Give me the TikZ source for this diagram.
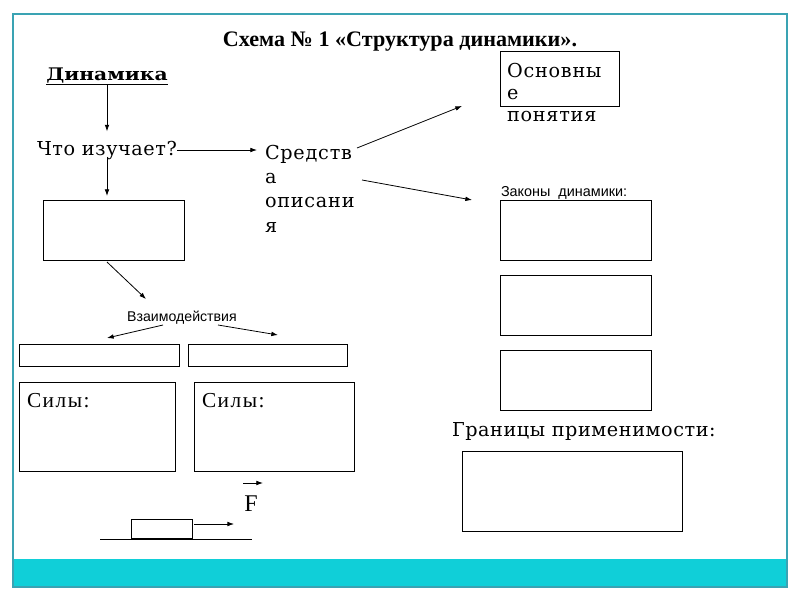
\documentclass[tikz,border=0pt]{standalone}
\usepackage{fontspec}
\setmainfont{Liberation Serif}
\newfontfamily\dvs{DejaVu Serif}
\newfontfamily\dvsls[LetterSpace=4]{DejaVu Serif}
\newfontfamily\dvslt[LetterSpace=3]{DejaVu Serif}
\newfontfamily\lserls[LetterSpace=7]{Liberation Serif}
\newfontfamily\lsans{Liberation Sans}
\usetikzlibrary{arrows.meta}
\definecolor{framecol}{HTML}{3AA3B3}
\definecolor{bandcol}{HTML}{10CFD8}
\tikzset{
  box/.style={draw, line width=0.8pt, inner sep=0pt, anchor=north west},
  arr/.style={-{Latex[length=5pt,width=3.5pt]}, line width=0.6pt},
  plain/.style={line width=0.7pt},
  txt/.style={inner sep=0pt, outer sep=0pt},
}
\newcommand\bx[5]{\node[box, minimum width=#4*0.75pt, minimum height=#5*0.75pt] (#1) at (#2,#3) {};}
\begin{document}
\begin{tikzpicture}[x=0.75pt,y=-0.75pt]
\useasboundingbox (0,0) rectangle (800,600);
\fill[white] (0,0) rectangle (800,600);
\fill[bandcol] (13,559) rectangle (787,586);
\draw[framecol, line width=0.8pt] (13,14) rectangle (787,587);

% title
\node[txt, anchor=base] (title) at (400,46) {\fontsize{16.6}{18}\selectfont\bfseries Схема № 1 «Структура динамики».};

% left column
\node[txt, anchor=base] (dyn) at (107,80) {\dvs\fontsize{13}{15}\selectfont\bfseries\scalebox{1.17}[1]{\underline{Динамика}}};
\node[txt, anchor=base west] (q) at (37,155) {\dvslt\fontsize{14.4}{16}\selectfont Что изучает?};
\node[txt, anchor=north west, align=left, font=\dvsls\fontsize{14.4}{18.2}\selectfont] (desc) at (265,145) {Средств\\а\\описани\\я};

\bx{b1}{43}{200}{141}{60}
\node[txt, anchor=base] (inter) at (182,321) {\lsans\fontsize{10.6}{12}\selectfont Взаимодействия};
\bx{s1}{19}{344}{160}{22}
\bx{s2}{188}{344}{159}{22}
\bx{f1}{19}{382}{156}{89}
\bx{f2}{194}{382}{160}{89}
\node[txt, anchor=base west] (f1t) at (27,407) {\lserls\fontsize{16}{18}\selectfont Силы:};
\node[txt, anchor=base west] (f2t) at (202,407) {\lserls\fontsize{16}{18}\selectfont Силы:};

% vector F
\coordinate (va) at (243,483);
\coordinate (vb) at (263,483);
\node[txt, anchor=base] (F) at (251,511) {\fontsize{18}{20}\selectfont F};
\draw[arr] (va) -- (vb);

% block on surface
\bx{blk}{131}{519}{61}{19}
\coordinate (gl) at (100,538);
\coordinate (gr) at (252,538);
\draw[plain] (gl |- blk.south) -- (gr |- blk.south);
\draw[arr] (blk.east |- 0,524) ++(1,0) coordinate (fa) -- ++(40,0) coordinate (fb);

% right column
\bx{osn}{500}{51}{119}{55}
\node[txt, anchor=north west, align=left, font=\dvsls\fontsize{14.4}{16.5}\selectfont] (osnt) at (507,63) {Основны\\е\\понятия};
\node[txt, anchor=base west] (zak) at (501,196) {\lsans\fontsize{10.8}{12}\selectfont Законы\ \ динамики:};
\bx{z1}{500}{200}{151}{60}
\bx{z2}{500}{275}{151}{60}
\bx{z3}{500}{350}{151}{60}
\node[txt, anchor=base west] (gran) at (452,436) {\dvslt\fontsize{14.4}{16}\selectfont Границы применимости:};
\bx{g1}{462}{451}{220}{80}

% connectors
\draw[arr] (dyn.south) -- ([yshift=7pt]dyn.south |- q.north);
\draw[arr] (q.east) -- ([xshift=-6pt]q.east -| desc.west);
\draw[arr] ([yshift=2pt]dyn.south |- q.south) -- ([yshift=3pt]dyn.south |- b1.north);
\coordinate (b1a) at (107,262);
\coordinate (ia) at (146,299);
\draw[arr] (b1a) -- (ia);
\coordinate (il) at (163,325);
\coordinate (ilt) at (107,338);
\coordinate (ir) at (218,325);
\coordinate (irt) at (278,335);
\draw[arr] (il) -- (ilt);
\draw[arr] (ir) -- (irt);
\coordinate (d1) at (357,148);
\coordinate (d1t) at (462,106);
\coordinate (d2) at (362,180);
\coordinate (d2t) at (472,200);
\draw[arr] (d1) -- (d1t);
\draw[arr] (d2) -- (d2t);
\end{tikzpicture}
\end{document}
